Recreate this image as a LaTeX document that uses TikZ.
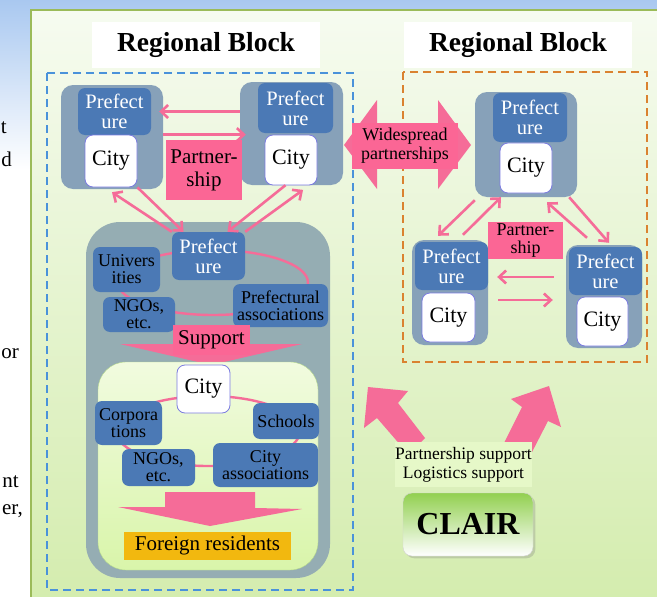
\documentclass[tikz,border=0pt]{standalone}
\usepackage{fontspec}
\setmainfont{Liberation Serif}
\usepackage{xcolor}
\usepackage{tikz}
\usetikzlibrary{arrows.meta,positioning,shadows}
\definecolor{slideblue}{HTML}{A9C8F0}
\definecolor{panelline}{HTML}{9BBB59}
\definecolor{paneltop}{HTML}{F6FBF0}
\definecolor{panelbot}{HTML}{D3ECAC}
\definecolor{dashblue}{HTML}{4A92DA}
\definecolor{dashorange}{HTML}{DA8230}
\definecolor{grpblue}{HTML}{87A1B9}
\definecolor{midgray}{HTML}{95ADB3}
\definecolor{prefblue}{HTML}{4B79B5}
\definecolor{cityline}{HTML}{7C7CE0}
\definecolor{tagpink}{HTML}{FB6695}
\definecolor{linkpink}{HTML}{F56C98}
\definecolor{innertop}{HTML}{F1FBDF}
\definecolor{innerbot}{HTML}{D9F5AA}
\definecolor{innerline}{HTML}{B6D98E}
\definecolor{gold}{HTML}{F2B80F}
\definecolor{supbg}{HTML}{E6F8C8}
\definecolor{clairtop}{HTML}{92D050}
\newcommand{\fsz}[2]{\fontsize{#1}{#2}\selectfont}

\begin{document}
\begin{tikzpicture}[x=1pt, y=-1pt,
  group/.style={fill=grpblue, rounded corners=12pt, inner sep=0pt},
  pref/.style={fill=prefblue, rounded corners=7pt, text=white, align=center,
    font={\fsz{20.5}{20}}, inner sep=0pt},
  city/.style={fill=white, draw=cityline, line width=0.8pt, rounded corners=8pt,
    font={\fsz{22}{22}}, inner sep=0pt},
  org/.style={fill=prefblue, rounded corners=7pt, align=center,
    font={\fsz{18}{17}}, inner sep=0pt},
  tag/.style={fill=tagpink, align=center, font={\fsz{20}{21}}, inner sep=0pt},
  link/.style={-{Straight Barb[length=7pt,width=13pt]}, line width=2.6pt, draw=linkpink},
  ring/.style={draw=linkpink, line width=2.4pt},
  blockarrow/.style={fill=linkpink},
  heading/.style={fill=white, font={\bfseries\fsz{27.5}{27.5}}, minimum width=228pt,
    minimum height=46pt},
  frag/.style={anchor=base east, font={\fsz{21}{21}}, inner sep=0pt}
]
\useasboundingbox (0,0) rectangle (657,597);
% slide background and panel
\fill[white] (0,0) rectangle (657,597);
\shade[top color=slideblue, bottom color=white] (0,0) rectangle (657,170);
\draw[panelline, line width=2pt, top color=paneltop, bottom color=panelbot]
  (31,10) rectangle (680,620);
\node[frag] (f1) at (7,133) {t};
\node[frag] (f2) at (12,166) {d};
\node[frag] (f3) at (19,358) {or};
\node[frag] (f4) at (19,487) {nt};
\node[frag] (f5) at (23,514) {er,};

% titles and regional blocks
\node[heading] (tleft) at (206,45) {Regional Block};
\node[heading] (tright) at (518,45) {Regional Block};
\draw[dashblue, line width=2.2pt, dash pattern=on 8pt off 5pt] (47,73) rectangle (353,590);
\draw[dashorange, line width=2.2pt, dash pattern=on 8pt off 5pt] (403,72) rectangle (647,362);

% left block, top pair
\node[group, minimum width=102pt, minimum height=104pt] (lg1) at (112,137) {};
\node[pref, minimum width=73pt, minimum height=47pt] (lp1) at (114.5,111.5) {Prefect\\ure};
\node[city, minimum width=52pt, minimum height=52pt] (lc1) at (111,161) {City};
\node[group, minimum width=103pt, minimum height=103pt] (lg2) at (291.5,133.5) {};
\node[pref, minimum width=75pt, minimum height=50pt] (lp2) at (295.5,108) {Prefect\\ure};
\node[city, minimum width=52pt, minimum height=50pt] (lc2) at (291,160) {City};
\draw[link, shorten >=-4pt] (lg2.west |- lp1) -- (lg1.east |- lp1);
\draw[link, shorten >=-6pt] (lg1.east |- lc1.north) -- (lg2.west |- lc1.north);
\node[tag, minimum width=76pt, minimum height=60pt, font={\fsz{21}{23}}] (ptleft) at (204,170) {Partner-\\ship};

% left block, prefecture level
\node[fill=midgray, rounded corners=34pt, minimum width=244pt, minimum height=356pt] (mg) at (208,400) {};
\draw[ring] (213,282.5) ellipse [x radius=95pt, y radius=32.5pt];
\node[pref, minimum width=73pt, minimum height=48pt] (mp) at (208.5,256) {Prefect\\ure};
\node[org, minimum width=67pt, minimum height=45pt] (univ) at (126.5,269.5) {Univers\\ities};
\node[org, minimum width=72pt, minimum height=35pt] (ngo1) at (139,314.5) {NGOs,\\etc.};
\node[org, minimum width=95pt, minimum height=43pt] (passoc) at (280.5,305.5) {Prefectural\\associations};
\draw[link] (lc1.south east) -- ([xshift=-25pt]mp.north);
\draw[link] (mp.north west) -- ([yshift=-3pt]lg1.south);
\draw[link] ([xshift=-6pt]lg2.south) -- ([xshift=19pt]mp.north);
\draw[link, shorten >=8pt] (mp.north east) -- ([xshift=18pt]lg2.south);
\fill[blockarrow] (120,344) -- (302,344) -- (211,365) -- cycle;
\node[tag, minimum width=77pt, minimum height=30pt, font={\fsz{21}{21}}] (support) at (211.5,340) {Support};

% left block, city level
\node[draw=innerline, top color=innertop, bottom color=innerbot, rounded corners=28pt,
  minimum width=220pt, minimum height=208pt] (ig) at (208,466) {};
\draw[ring] (208,431) ellipse [x radius=92pt, y radius=35pt];
\node[city, minimum width=53pt, minimum height=48pt] (mc) at (203.5,389) {City};
\node[org, minimum width=67pt, minimum height=44pt] (corp) at (128.5,423) {Corpora\\tions};
\node[org, minimum width=66pt, minimum height=36pt] (school) at (286,421) {Schools};
\node[org, minimum width=73pt, minimum height=37pt] (ngo2) at (158.5,467.5) {NGOs,\\etc.};
\node[org, minimum width=105pt, minimum height=44pt] (cassoc) at (265.5,465) {City\\associations};
\fill[blockarrow] (165,492) -- (255,492) -- (255,508) -- (302,509) -- (210,526)
  -- (118,507) -- (165,507) -- cycle;
\node[fill=gold, minimum width=167pt, minimum height=28pt, inner sep=0pt,
  font={\fsz{21}{21}}] (foreign) at (207.5,545.5) {Foreign residents};

% widespread partnerships
\fill[blockarrow] (344,145) -- (377,100) -- (377,123) -- (438,123) -- (438,100)
  -- (471,145) -- (438,189) -- (438,168) -- (377,168) -- (377,189) -- cycle;
\node[tag, minimum width=106pt, minimum height=46pt, font={\fsz{18}{19}}] (wide) at (405,146) {Widespread\\partnerships};

% right block
\node[group, minimum width=102pt, minimum height=105pt] (rg1) at (526,144.5) {};
\node[pref, minimum width=74pt, minimum height=49pt] (rp1) at (530,117.5) {Prefect\\ure};
\node[city, minimum width=52pt, minimum height=50pt] (rc1) at (526,168) {City};
\node[group, minimum width=76pt, minimum height=105pt] (rg2) at (450,292.5) {};
\node[pref, minimum width=73pt, minimum height=48pt] (rp2) at (451.5,266) {Prefect\\ure};
\node[city, minimum width=53pt, minimum height=49pt] (rc2) at (448.5,317.5) {City};
\node[group, minimum width=76pt, minimum height=103pt] (rg3) at (604,296.5) {};
\node[pref, minimum width=73pt, minimum height=48pt] (rp3) at (605.5,271) {Prefect\\ure};
\node[city, minimum width=51pt, minimum height=49pt] (rc3) at (602.5,321.5) {City};
\draw[link] ([yshift=-3pt]rg1.south west) -- ([xshift=-12pt,yshift=4pt]rg2.north);
\draw[link] ([xshift=13pt,yshift=5pt]rg2.north) -- ([xshift=-25pt]rg1.south);
\draw[link] ([xshift=-17pt,yshift=7pt]rg3.north) -- ([xshift=21pt,yshift=-5pt]rg1.south);
\draw[link] ([xshift=-8pt]rg1.south east) -- ([xshift=5pt,yshift=2pt]rg3.north);
\draw[link, shorten <=12pt, shorten >=9pt] ([yshift=19.5pt]rg3.west) -- ([yshift=15.5pt]rg2.east);
\draw[link, shorten <=10pt, shorten >=13pt] ([yshift=-7.5pt]rg2.east) -- ([yshift=-3.5pt]rg3.west);
\node[tag, minimum width=75pt, minimum height=37pt, font={\fsz{18}{18}}] (ptright) at (525.5,240.5) {Partner-\\ship};

% CLAIR support
\fill[blockarrow] (368,387) -- (408,391) -- (398,403) -- (425,438) -- (409,455)
  -- (377,418) -- (364,428) -- cycle;
\fill[blockarrow] (549,386) -- (561,427) -- (548,421) -- (530,456) -- (503,445)
  -- (522,407) -- (511,399) -- cycle;
\node[fill=supbg, minimum width=99pt, minimum height=45pt, inner sep=0pt, align=center,
  font={\fsz{17.5}{19}}] (sup) at (463.5,464.5) {Partnership support\\Logistics support};
\node[draw=gray!35, top color=clairtop, bottom color=white, rounded corners=9pt,
  minimum width=130pt, minimum height=63pt, drop shadow={opacity=0.3},
  font={\bfseries\fsz{32}{32}}] (clair) at (468,524.5) {CLAIR};
\end{tikzpicture}
\end{document}
